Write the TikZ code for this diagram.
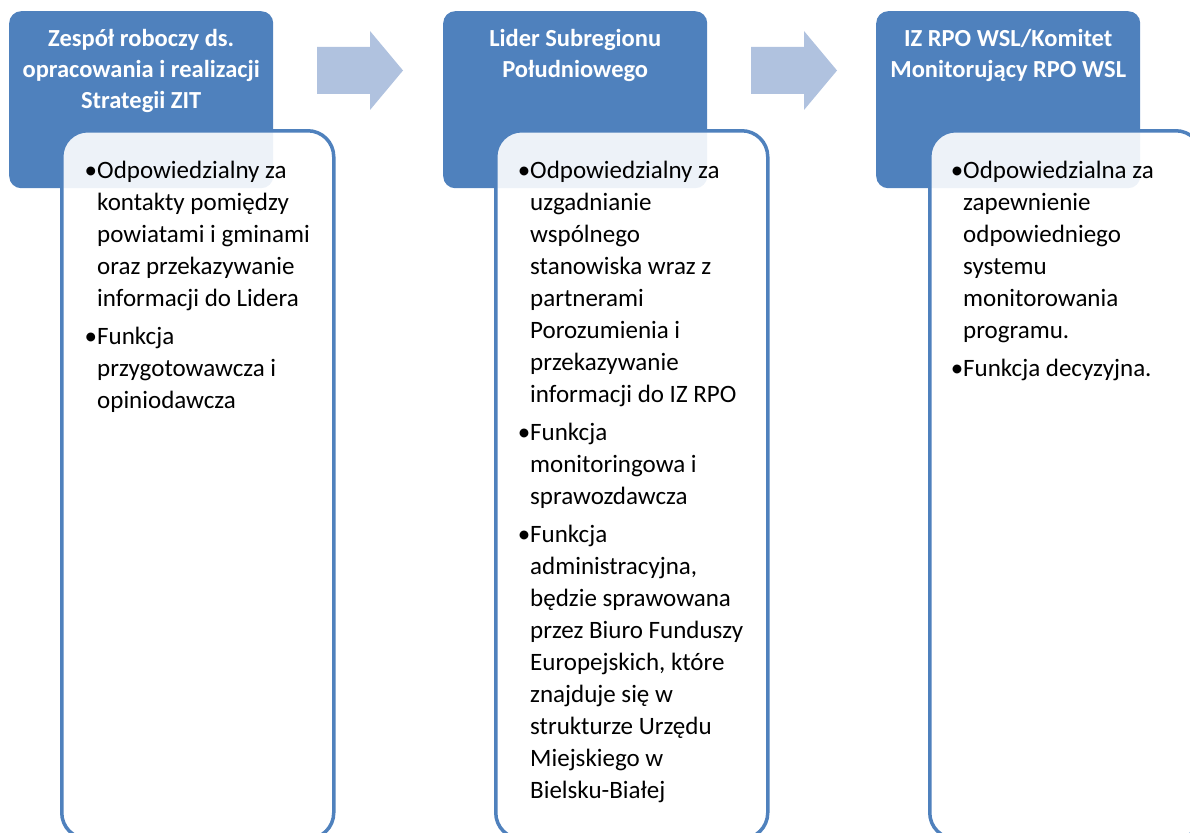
\documentclass[tikz,border=0pt]{standalone}
\usepackage{fontspec}
\setmainfont{Carlito}
\usepackage{xcolor}
\usepackage{tikz}
\usetikzlibrary{shapes, arrows, positioning, calc}

\definecolor{headblue}{HTML}{4F81BD}
\definecolor{arrowblue}{HTML}{B0C2DF}

\begin{document}
\begin{tikzpicture}[x=1pt, y=-1pt,
  headbox/.style={fill=headblue, rounded corners=12pt, minimum width=264pt, minimum height=177pt, anchor=north west, inner sep=0pt},
  headlabel/.style={text=white, font=\bfseries\fontsize{24.5}{31}\selectfont, align=center, anchor=north, inner sep=0pt},
  bodybox/.style={draw=headblue, line width=3.5pt, fill=white, fill opacity=0.9, rounded corners=26pt, minimum width=272pt, minimum height=708pt, anchor=north west, inner sep=0pt},
  bodytext/.style={font=\fontsize{25}{32}\selectfont, align=left, anchor=north west, inner sep=0pt}]
\path[use as bounding box, clip] (0,0) rectangle (1190,832);

% Arrows between the headers
\foreach \ax in {317, 751}
  \fill[arrowblue] (\ax,47) -- ++(53,0) -- ++(0,-16) -- ++(33,39.5) -- ++(-33,39.5) -- ++(0,-16) -- ++(-53,0) -- cycle;

% Working team
\begin{scope}[xshift=0pt]
\node[headbox] (h1) at (9,11) {};
\node[headlabel] (l1) at ($(h1.north)+(0,13.3)$) {\strut Zespół roboczy ds.\\opracowania i realizacji\\Strategii ZIT};
\node[bodybox] (b1) at (60,129) {};
\node[bodytext] (t1) at ($(b1.north west)+(37,26.6)$) {\strut\llap{\textbullet}Odpowiedzialny za\\kontakty pomiędzy\\powiatami i gminami\\oraz przekazywanie\\informacji do Lidera\\[6pt]\llap{\textbullet}Funkcja\\przygotowawcza i\\opiniodawcza};
\end{scope}

% Leader of the subregion
\begin{scope}[xshift=434pt]
\node[headbox] (h2) at (9,11) {};
\node[headlabel] (l2) at ($(h2.north)+(0,13.3)$) {\strut Lider Subregionu\\Południowego};
\node[bodybox] (b2) at (60,129) {};
\node[bodytext] (t2) at ($(b2.north west)+(36,26.6)$) {\strut\llap{\textbullet}Odpowiedzialny za\\uzgadnianie\\wspólnego\\stanowiska wraz z\\partnerami\\Porozumienia i\\przekazywanie\\informacji do IZ RPO\\[6pt]\llap{\textbullet}Funkcja\\monitoringowa i\\sprawozdawcza\\[6pt]\llap{\textbullet}Funkcja\\administracyjna,\\będzie sprawowana\\przez Biuro Funduszy\\Europejskich, które\\znajduje się w\\strukturze Urzędu\\Miejskiego w\\Bielsku-Białej};
\end{scope}

% Managing authority / committee
\begin{scope}[xshift=867pt]
\node[headbox] (h3) at (9,11) {};
\node[headlabel] (l3) at ($(h3.north)+(0,13.3)$) {\strut IZ RPO WSL/Komitet\\Monitorujący RPO WSL};
\node[bodybox] (b3) at (61,129) {};
\node[bodytext] (t3) at ($(b3.north west)+(35,26.6)$) {\strut\llap{\textbullet}Odpowiedzialna za\\zapewnienie\\odpowiedniego\\systemu\\monitorowania\\programu.\\[6pt]\llap{\textbullet}Funkcja decyzyjna.};
\end{scope}
\end{tikzpicture}
\end{document}
